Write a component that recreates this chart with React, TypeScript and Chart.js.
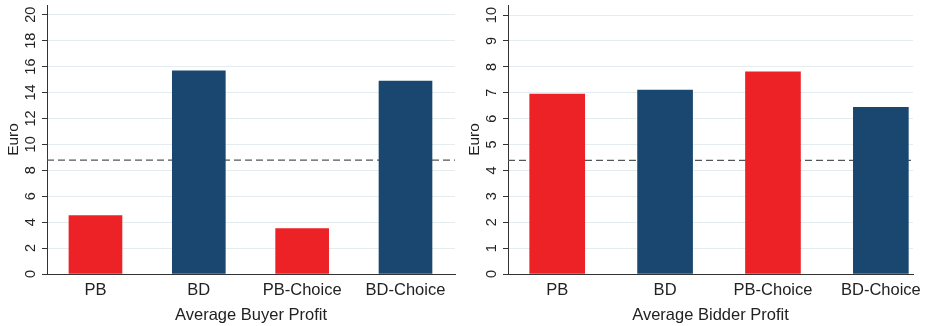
import React, { useEffect, useRef } from 'react';
import { Chart, registerables } from 'chart.js';

Chart.register(...registerables);

const categories = ['PB', 'BD', 'PB-Choice', 'BD-Choice'];
const buyerProfit = [4.5, 15.68, 3.5, 14.89];
const bidderProfit = [6.95, 7.1, 7.81, 6.44];
const buyerReference = 8.79;
const bidderReference = 4.39;
const buyerTicks = [0, 2, 4, 6, 8, 10, 12, 14, 16, 18, 20];
const bidderTicks = [0, 1, 2, 3, 4, 5, 6, 7, 8, 9, 10];
const barColors = ['#ec2227', '#1a476f', '#ec2227', '#1a476f'];
const buyerTitle = 'Average Buyer Profit';
const bidderTitle = 'Average Bidder Profit';
const yTitle = 'Euro';

const FONT = "'Liberation Sans', Arial, sans-serif";
const TEXT = '#222222';
const AXIS = '#333333';

type PanelProps = {
  values: number[];
  refValue: number;
  ticks: number[];
  title: string;
  yMax: number;
  xMin: number;
  xMax: number;
  yAxisWidth: number;
  padRight: number;
  barThickness: number;
  yTitlePad: number;
};

function Panel(p: PanelProps) {
  const ref = useRef<HTMLCanvasElement | null>(null);
  useEffect(() => {
    if (!ref.current) return;
    const refLine = {
      id: 'refLine',
      beforeDatasetsDraw(chart: any) {
        const { ctx, chartArea, scales } = chart;
        const y = scales.y.getPixelForValue(p.refValue);
        ctx.save();
        ctx.strokeStyle = '#555555';
        ctx.lineWidth = 1.2;
        ctx.setLineDash([7, 4]);
        ctx.beginPath();
        ctx.moveTo(chartArea.left, y);
        ctx.lineTo(chartArea.right, y);
        ctx.stroke();
        ctx.restore();
      },
    };
    const chart = new Chart(ref.current, {
      type: 'bar',
      data: {
        datasets: [
          {
            data: p.values.map((v, i) => ({ x: i, y: v })),
            backgroundColor: barColors,
            borderWidth: 0,
            barThickness: p.barThickness,
          } as any,
        ],
      },
      options: {
        animation: false,
        responsive: false,
        events: [],
        font: { family: FONT },
        layout: { padding: { top: 5, right: p.padRight, left: 0, bottom: 0 } },
        plugins: {
          legend: { display: false },
          tooltip: { enabled: false },
          title: { display: false },
        },
        scales: {
          x: {
            type: 'linear',
            min: p.xMin,
            max: p.xMax,
            offset: false,
            grid: { display: false, offset: false, drawTicks: false },
            border: { display: true, color: AXIS, width: 1 },
            afterBuildTicks: (s: any) => {
              s.ticks = categories.map((_, i) => ({ value: i }));
            },
            afterFit: (s: any) => {
              s.height = 52;
              s.paddingLeft = 0;
              s.paddingRight = 0;
            },
            ticks: {
              autoSkip: false,
              minRotation: 0,
              maxRotation: 0,
              padding: 7,
              color: TEXT,
              font: { family: FONT, size: 16.5 },
              callback: (v: any) => categories[Math.round(Number(v))] ?? '',
            },
            title: {
              display: true,
              text: p.title,
              color: TEXT,
              font: { family: FONT, size: 16.5 },
              padding: { top: 0, bottom: 1 },
            },
          } as any,
          y: {
            type: 'linear',
            min: 0,
            max: p.yMax,
            afterBuildTicks: (s: any) => {
              s.ticks = p.ticks.map((v) => ({ value: v }));
            },
            afterFit: (s: any) => {
              s.width = p.yAxisWidth;
              s.paddingTop = 0;
              s.paddingBottom = 0;
            },
            grid: { color: '#e4ecef', tickColor: AXIS, tickLength: 5, lineWidth: 1 },
            border: { display: true, color: AXIS, width: 1 },
            ticks: {
              minRotation: 90,
              maxRotation: 90,
              crossAlign: 'center',
              padding: 3,
              color: TEXT,
              font: { family: FONT, size: 14.5 },
            },
            title: {
              display: true,
              text: yTitle,
              color: TEXT,
              font: { family: FONT, size: 15.5 },
              padding: { top: p.yTitlePad, bottom: 0 },
            },
          } as any,
        },
      },
      plugins: [refLine],
    });
    return () => chart.destroy();
  }, []);
  return <canvas ref={ref} width={463} height={326} style={{ display: 'block', width: 463, height: 326 }} />;
}

export default function App() {
  return (
    <div style={{ position: 'absolute', left: 0, top: 0, width: 926, height: 326, display: 'flex', background: '#ffffff' }}>
      <Panel
        values={buyerProfit}
        refValue={buyerReference}
        ticks={buyerTicks}
        title={buyerTitle}
        yMax={20.75}
        xMin={-0.469}
        xMax={3.479}
        yAxisWidth={47}
        padRight={8}
        barThickness={53}
        yTitlePad={4}
      />
      <Panel
        values={bidderProfit}
        refValue={bidderReference}
        ticks={bidderTicks}
        title={bidderTitle}
        yMax={10.39}
        xMin={-0.456}
        xMax={3.298}
        yAxisWidth={45}
        padRight={13}
        barThickness={55}
        yTitlePad={2}
      />
    </div>
  );
}
